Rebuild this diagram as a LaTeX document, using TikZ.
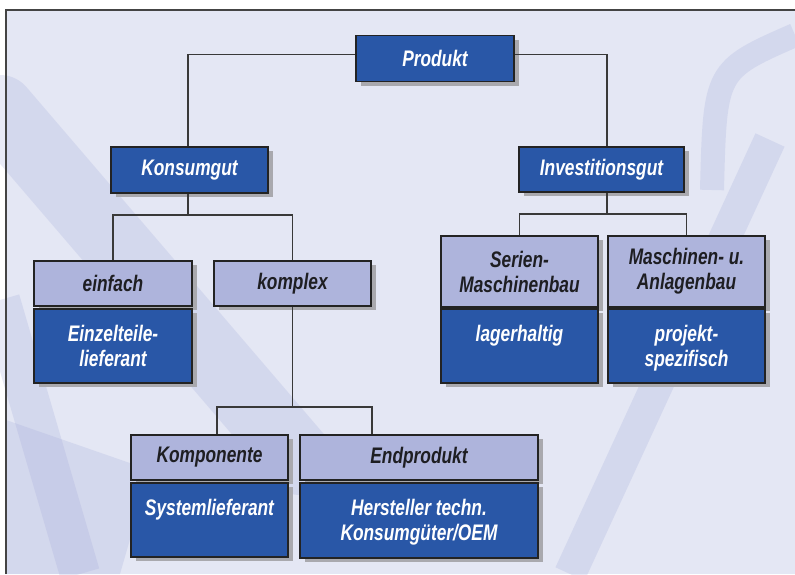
\documentclass[tikz,border=0pt]{standalone}
\usepackage{fontspec}
\newfontfamily\labfont{Liberation Sans}[FakeStretch=0.77]
\usetikzlibrary{shadows}
\definecolor{dblue}{HTML}{2957A7}
\definecolor{lblue}{HTML}{AEB4DC}
\definecolor{bgc}{HTML}{E4E7F4}
\definecolor{shade}{HTML}{A9A9AE}
\definecolor{edge}{HTML}{232323}
\definecolor{band}{HTML}{A4ACDA}
\definecolor{dtext}{HTML}{1E1E22}
\begin{document}
\begin{tikzpicture}[x=1pt,y=-1pt,
  box/.style={draw=edge, line width=1.1pt, inner sep=0pt, align=center,
    font=\labfont\bfseries\itshape\fontsize{22.5}{25}\selectfont,
    general shadow={fill=shade, shadow xshift=5pt, shadow yshift=-4pt}},
  darkbox/.style={box, fill=dblue, text=white},
  lightbox/.style={box, fill=lblue, text=dtext},
  lowtext/.style={inner sep=0pt, align=center, text=white, anchor=north,
    font=\labfont\bfseries\itshape\fontsize{22.5}{25}\selectfont},
  conn/.style={draw=edge!90, line width=1.1pt}]
\useasboundingbox (0,0) rectangle (795,574);
% background
\fill[white] (0,0) rectangle (795,574);
\fill[bgc] (6,10) rectangle (795,574);
\begin{scope}[opacity=.25]
  \draw[band, line width=70pt, line cap=round] (0,110) -- (300,460);
  \draw[band, line width=40pt] (0,300) -- (80,574);
  \fill[band] (6,420) -- (150,470) -- (120,574) -- (6,574) -- cycle;
  \draw[band, line width=32pt] (570,574) -- (770,140);
  \draw[band, line width=24pt] (712,190) .. controls (715,70) .. (795,35);
\end{scope}
\draw[edge!85, line width=1.4pt] (6,574) -- (6,10) -- (795,10);
% level 0
\node[darkbox, minimum width=158pt, minimum height=46pt] (prod) at (435,58.5) {Produkt};
% level 1
\node[darkbox, minimum width=157pt, minimum height=46pt] (kons) at (189.5,170) {Konsumgut};
\node[darkbox, minimum width=165pt, minimum height=45pt] (inv) at (601.5,169.5) {Investitionsgut};
% level 2 left
\node[lightbox, minimum width=158pt, minimum height=45pt] (ein) at (113,283.5) {einfach};
\node[darkbox, minimum width=158pt, minimum height=74pt] (einL) at (113,346) {};
\node[lowtext] (einT) at ([yshift=-17pt]einL.north) {Einzelteile-\\lieferant};
\node[lightbox, minimum width=157pt, minimum height=45pt] (kom) at (292.5,283.5) {komplex};
% level 2 right
\node[lightbox, minimum width=157pt, minimum height=71pt] (ser) at (519.5,271.5) {Serien-\\Maschinenbau};
\node[darkbox, minimum width=157pt, minimum height=74pt] (serL) at (519.5,346) {};
\node[lowtext] (serT) at ([yshift=-17pt]serL.north) {lagerhaltig};
\node[lightbox, minimum width=157pt, minimum height=71pt] (mas) at (686.5,271.5) {Maschinen- u.\\Anlagenbau};
\node[darkbox, minimum width=157pt, minimum height=74pt] (masL) at (686.5,346) {};
\node[lowtext] (masT) at ([yshift=-17pt]masL.north) {projekt-\\spezifisch};
% level 3
\node[lightbox, minimum width=157pt, minimum height=45pt] (komp) at (209.5,457.5) {Komponente};
\node[darkbox, minimum width=157pt, minimum height=74pt] (kompL) at (209.5,520) {};
\node[lowtext] (kompT) at ([yshift=-17pt]kompL.north) {Systemlieferant};
\node[lightbox, minimum width=238pt, minimum height=45pt] (endp) at (419,457.5) {Endprodukt};
\node[darkbox, minimum width=238pt, minimum height=75pt] (endpL) at (419,520.5) {};
\node[lowtext] (endpT) at ([yshift=-17pt]endpL.north) {Hersteller techn.\\Konsumgüter/OEM};
% connectors
\coordinate (b1) at (0,215);
\coordinate (b2) at (0,214);
\coordinate (b3) at (0,407);
\draw[conn] ([yshift=4pt]prod.west) -| ([xshift=-1.5pt]kons.north);
\draw[conn] ([yshift=4pt]prod.east) -| ([xshift=5.5pt]inv.north);
\draw[conn] ([xshift=-1.5pt]kons.south) -- ([xshift=-1.5pt]kons.south |- b1);
\draw[conn] (ein.north) |- (kom.north |- b1) -- (kom.north);
\draw[conn] ([xshift=5.5pt]inv.south) -- ([xshift=5.5pt]inv.south |- b2);
\draw[conn] (ser.north) |- (mas.north |- b2) -- (mas.north);
\draw[conn] (kom.south) -- (kom.south |- b3);
\draw[conn] ([xshift=7.5pt]komp.north) |- ([xshift=-47pt]endp.north |- b3) -- ([xshift=-47pt]endp.north);
\end{tikzpicture}
\end{document}
